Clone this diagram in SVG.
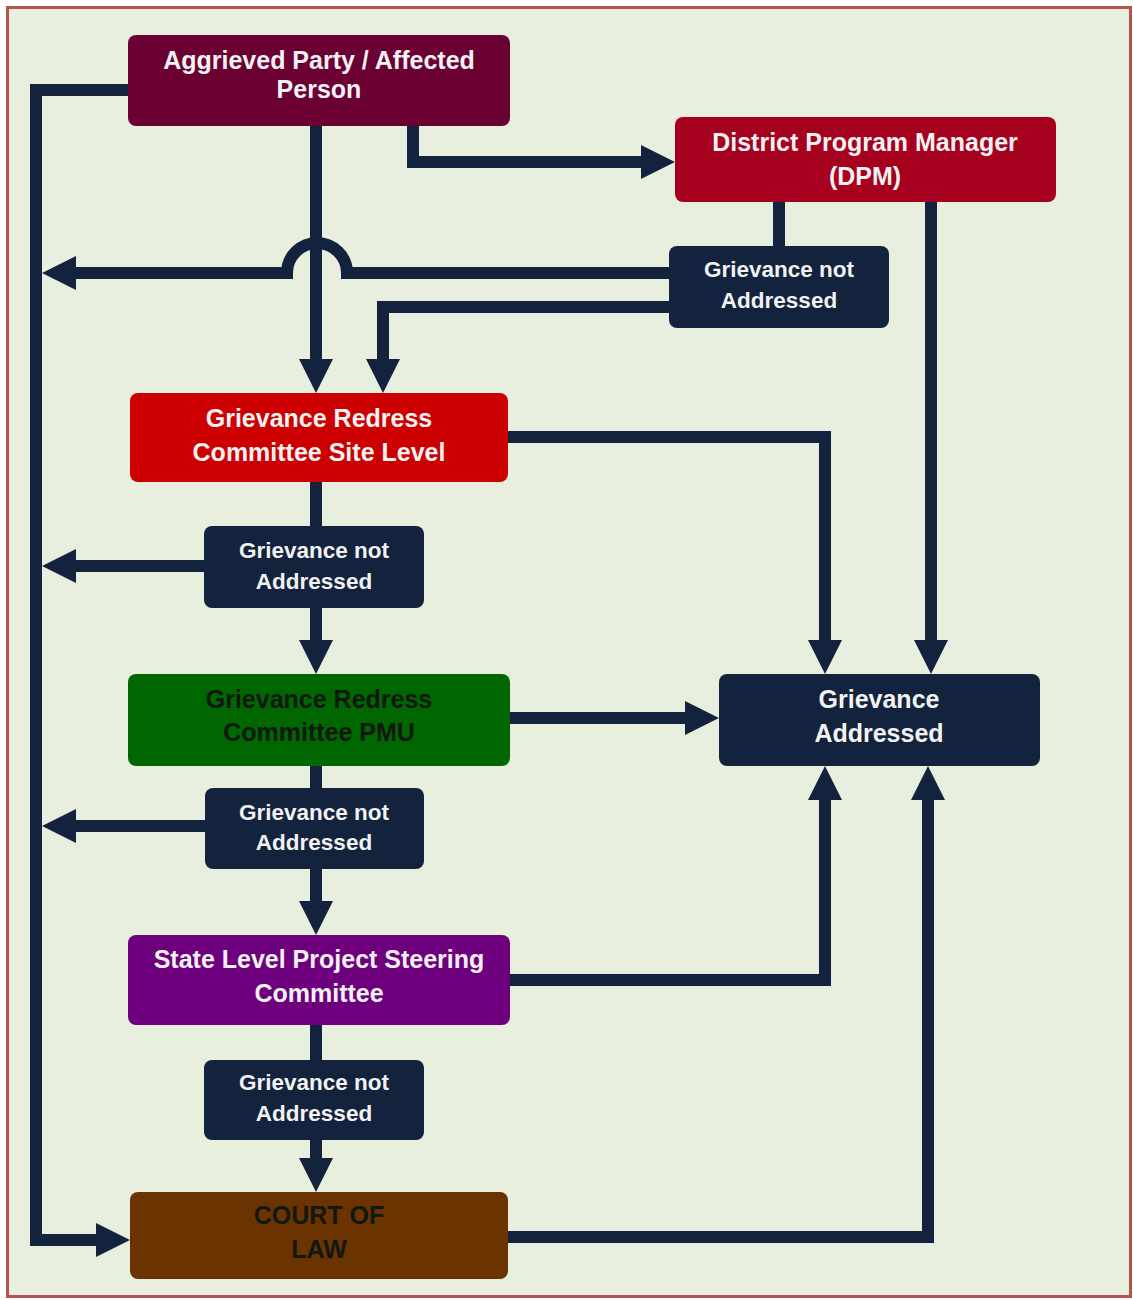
<svg xmlns="http://www.w3.org/2000/svg" width="1133" height="1300" viewBox="0 0 1133 1300">
<style>
.box{stroke:none}
.t{font-family:"Liberation Sans",Arial,sans-serif;font-weight:bold;text-anchor:middle;fill:#f2f2f2}
.big{font-size:25px}
.sm{font-size:22.5px}
.dk{fill:#101810}
.c{fill:none;stroke:#13233d;stroke-width:12;stroke-linejoin:miter}
</style>
<defs>
<marker id="ah" viewBox="0 -17 34 34" markerWidth="34" markerHeight="34" refX="0" refY="0" orient="auto" markerUnits="userSpaceOnUse">
<path d="M0,-17 L34,0 L0,17 z" fill="#13233d"/>
</marker>
</defs>
<rect x="7.5" y="7.5" width="1123" height="1289" fill="#e9efdf" stroke="#b5524a" stroke-width="3"/>

<g id="connectors">
<path class="c" d="M128,90 H36 V1240 H96" marker-end="url(#ah)"/>
<path class="c" d="M316,126 V359" marker-end="url(#ah)"/>
<path class="c" d="M413,126 V162 H641" marker-end="url(#ah)"/>
<path class="c" d="M779,202 V246"/>
<path class="c" d="M669,273 H347 A30,30 0 0 0 287,273 H76" marker-end="url(#ah)"/>
<path class="c" d="M669,307 H383 V359" marker-end="url(#ah)"/>
<path class="c" d="M931,202 V640" marker-end="url(#ah)"/>
<path class="c" d="M508,437 H825 V640" marker-end="url(#ah)"/>
<path class="c" d="M316,482 V526"/>
<path class="c" d="M204,566 H76" marker-end="url(#ah)"/>
<path class="c" d="M316,608 V640" marker-end="url(#ah)"/>
<path class="c" d="M510,718 H685" marker-end="url(#ah)"/>
<path class="c" d="M316,766 V788"/>
<path class="c" d="M205,826 H76" marker-end="url(#ah)"/>
<path class="c" d="M316,869 V901" marker-end="url(#ah)"/>
<path class="c" d="M510,980 H825 V800" marker-end="url(#ah)"/>
<path class="c" d="M316,1025 V1060"/>
<path class="c" d="M316,1140 V1158" marker-end="url(#ah)"/>
<path class="c" d="M508,1237 H928 V800" marker-end="url(#ah)"/>
</g>

<g id="aggrieved">
<rect class="box" x="128" y="35" width="382" height="91" rx="8" fill="#6b0032"/>
<text class="t big" x="319" y="69">Aggrieved Party / Affected</text>
<text class="t big" x="319" y="98">Person</text>
</g>
<g id="dpm">
<rect class="box" x="675" y="117" width="381" height="85" rx="8" fill="#a6001f"/>
<text class="t big" x="865" y="151">District Program Manager</text>
<text class="t big" x="865" y="185">(DPM)</text>
</g>
<g id="gna1">
<rect class="box" x="669" y="246" width="220" height="82" rx="8" fill="#13233d"/>
<text class="t sm" x="779" y="277">Grievance not</text>
<text class="t sm" x="779" y="308">Addressed</text>
</g>
<g id="grc-site">
<rect class="box" x="130" y="393" width="378" height="89" rx="8" fill="#cc0000"/>
<text class="t big" x="319" y="427">Grievance Redress</text>
<text class="t big" x="319" y="461">Committee Site Level</text>
</g>
<g id="gna2">
<rect class="box" x="204" y="526" width="220" height="82" rx="8" fill="#13233d"/>
<text class="t sm" x="314" y="558">Grievance not</text>
<text class="t sm" x="314" y="589">Addressed</text>
</g>
<g id="grc-pmu">
<rect class="box" x="128" y="674" width="382" height="92" rx="8" fill="#006600"/>
<text class="t big dk" x="319" y="708">Grievance Redress</text>
<text class="t big dk" x="319" y="741">Committee PMU</text>
</g>
<g id="addressed">
<rect class="box" x="719" y="674" width="321" height="92" rx="8" fill="#13233d"/>
<text class="t big" x="879" y="708">Grievance</text>
<text class="t big" x="879" y="742">Addressed</text>
</g>
<g id="gna3">
<rect class="box" x="205" y="788" width="219" height="81" rx="8" fill="#13233d"/>
<text class="t sm" x="314" y="820">Grievance not</text>
<text class="t sm" x="314" y="850">Addressed</text>
</g>
<g id="state">
<rect class="box" x="128" y="935" width="382" height="90" rx="8" fill="#6e007e"/>
<text class="t big" x="319" y="968">State Level Project Steering</text>
<text class="t big" x="319" y="1002">Committee</text>
</g>
<g id="gna4">
<rect class="box" x="204" y="1060" width="220" height="80" rx="8" fill="#13233d"/>
<text class="t sm" x="314" y="1090">Grievance not</text>
<text class="t sm" x="314" y="1121">Addressed</text>
</g>
<g id="court">
<rect class="box" x="130" y="1192" width="378" height="87" rx="8" fill="#6b3300"/>
<text class="t big dk" x="319" y="1224">COURT OF</text>
<text class="t big dk" x="319" y="1258">LAW</text>
</g>
</svg>
